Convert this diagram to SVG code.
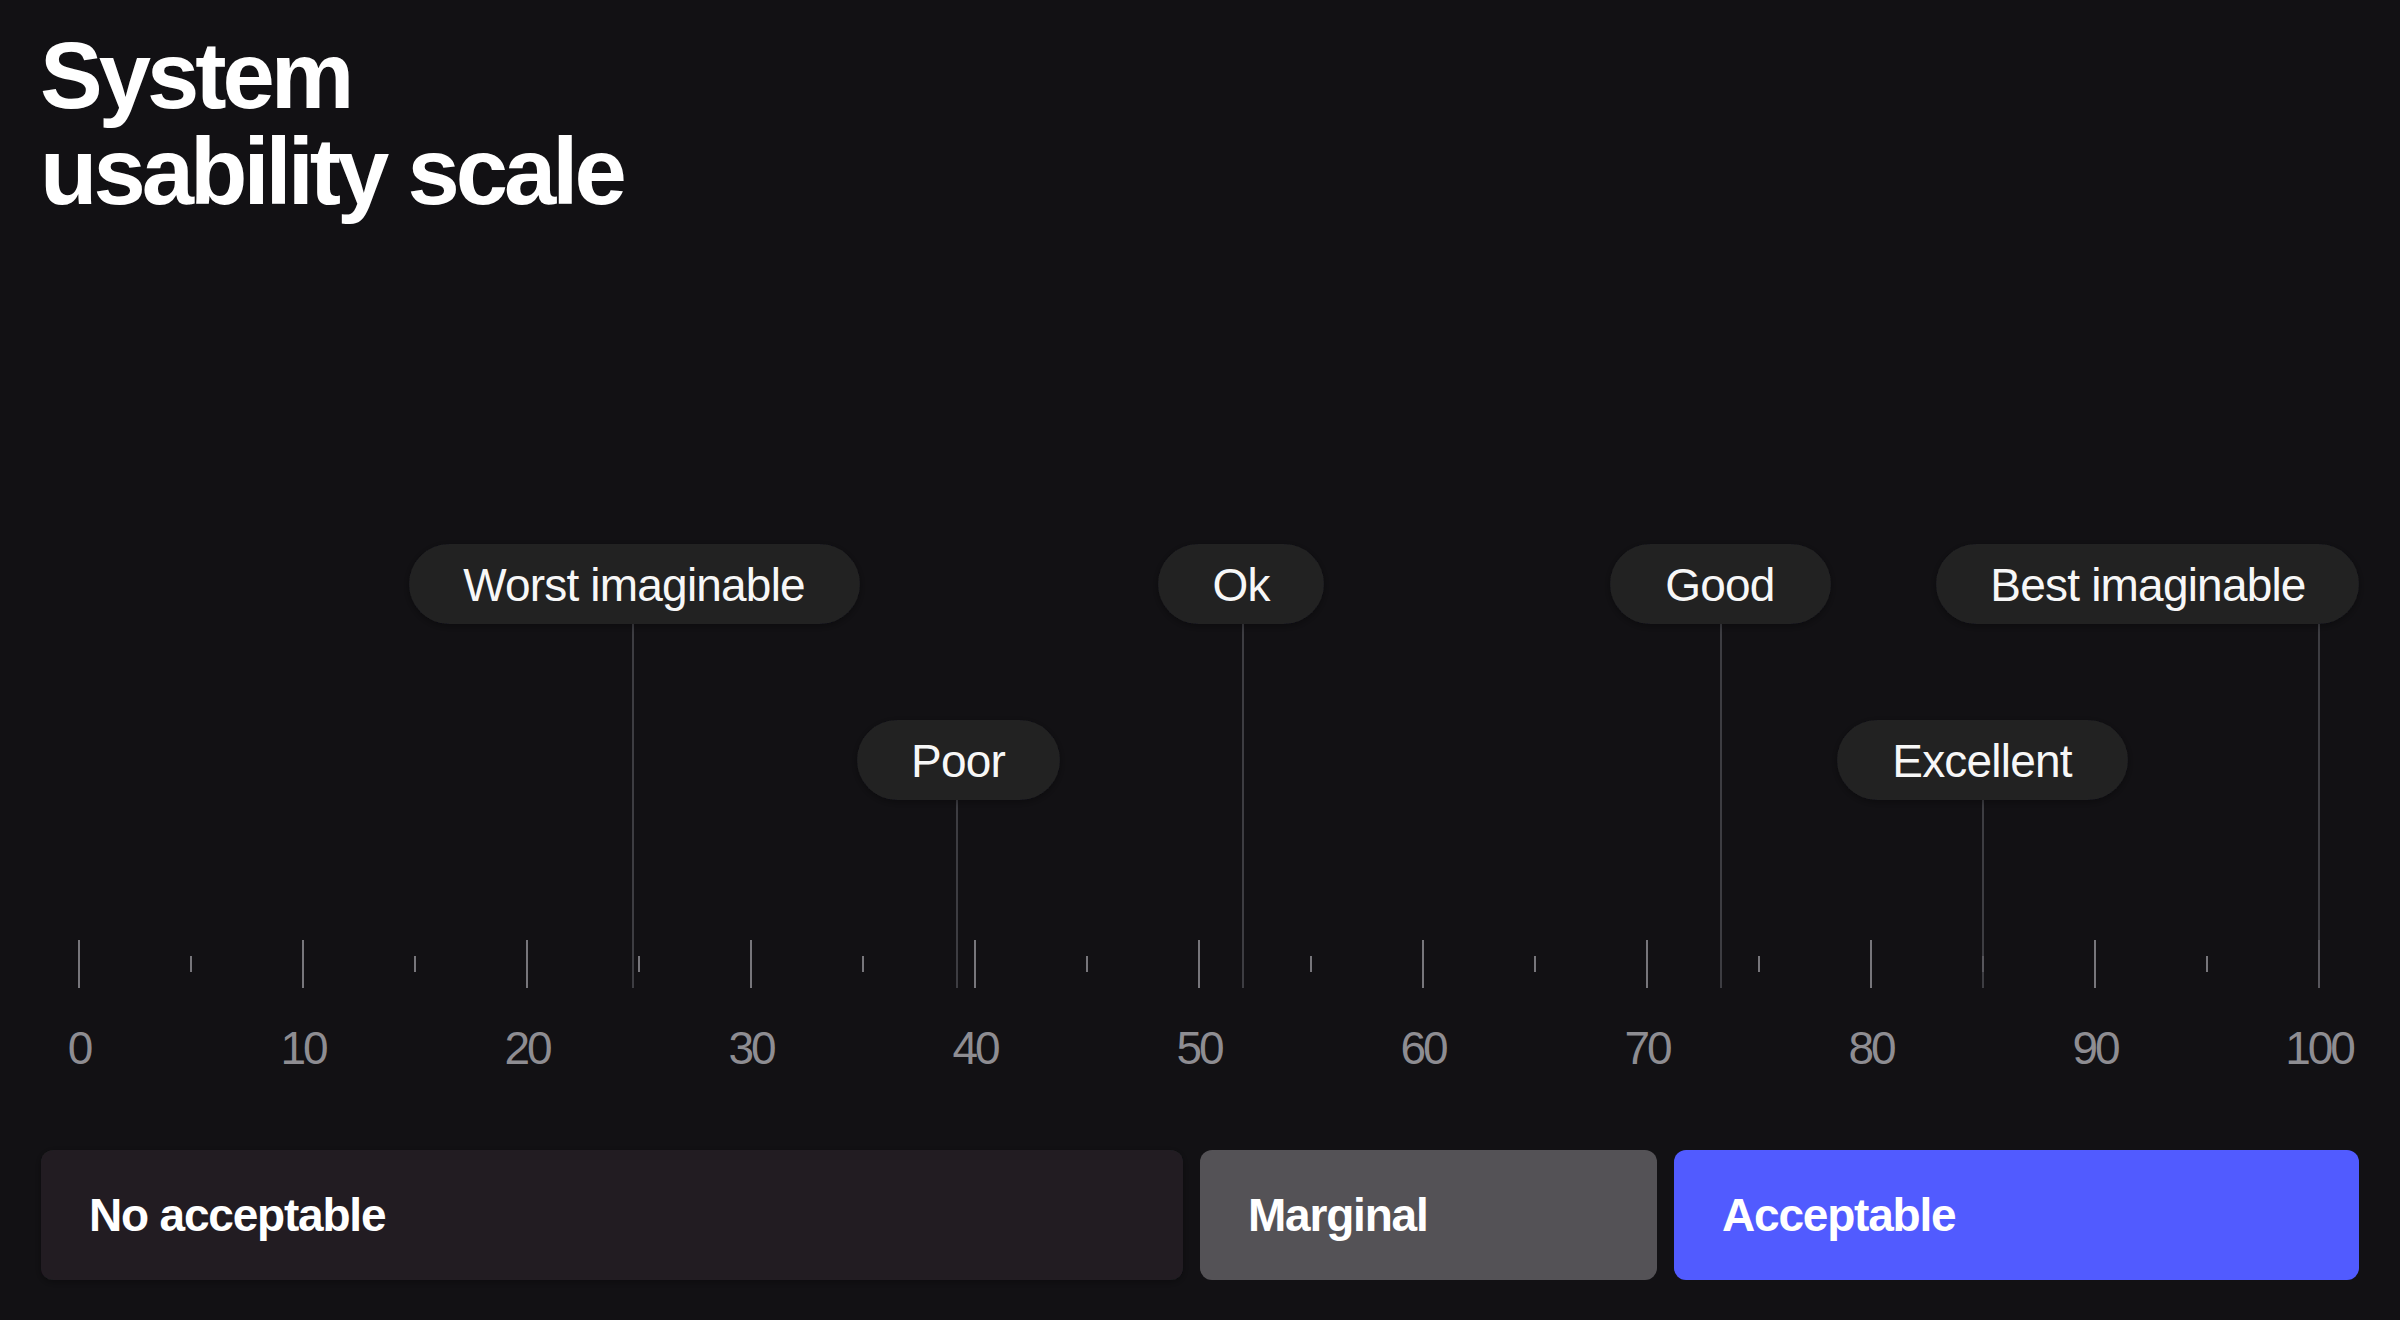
<svg xmlns="http://www.w3.org/2000/svg" width="2400" height="1320" viewBox="0 0 2400 1320">
  <defs>
    <filter id="soft" x="-10%" y="-30%" width="120%" height="160%">
      <feDropShadow dx="0" dy="2" stdDeviation="4" flood-color="#000" flood-opacity="0.35"/>
    </filter>
    <style>
      .title { font-family: "Liberation Sans", Arial, sans-serif; font-weight: 700; font-size: 94px; fill: #ffffff; letter-spacing: -4px; }
      .pill { fill: #202023; filter: url(#soft); }
      .pilltxt { font-family: "Liberation Sans", Arial, sans-serif; font-size: 46px; fill: #f7f7f7; text-anchor: middle; letter-spacing: -0.8px; }
      .conn { stroke: #4d4c52; stroke-width: 1.5; fill: none; }
      .major { stroke: #77767b; stroke-width: 2; }
      .minor { stroke: #77767b; stroke-width: 2; }
      .num { font-family: "Liberation Sans", Arial, sans-serif; font-size: 46px; fill: #8e8d92; text-anchor: middle; letter-spacing: -3px; }
      .bartxt { font-family: "Liberation Sans", Arial, sans-serif; font-weight: 700; font-size: 46px; fill: #ffffff; letter-spacing: -1.2px; }
    </style>
  </defs>
  <rect x="0" y="0" width="2400" height="1320" fill="#121114"/>

  <g id="title">
    <text class="title" x="40" y="108">System</text>
    <text class="title" x="40" y="204">usability scale</text>
  </g>

  <g id="axis">
    <g id="major-ticks">
      <line class="major" x1="79" y1="940" x2="79" y2="988"/>
      <line class="major" x1="303" y1="940" x2="303" y2="988"/>
      <line class="major" x1="527" y1="940" x2="527" y2="988"/>
      <line class="major" x1="751" y1="940" x2="751" y2="988"/>
      <line class="major" x1="975" y1="940" x2="975" y2="988"/>
      <line class="major" x1="1199" y1="940" x2="1199" y2="988"/>
      <line class="major" x1="1423" y1="940" x2="1423" y2="988"/>
      <line class="major" x1="1647" y1="940" x2="1647" y2="988"/>
      <line class="major" x1="1871" y1="940" x2="1871" y2="988"/>
      <line class="major" x1="2095" y1="940" x2="2095" y2="988"/>
      <line class="major" x1="2319" y1="940" x2="2319" y2="988"/>
    </g>
    <g id="minor-ticks">
      <line class="minor" x1="191" y1="956" x2="191" y2="972"/>
      <line class="minor" x1="415" y1="956" x2="415" y2="972"/>
      <line class="minor" x1="639" y1="956" x2="639" y2="972"/>
      <line class="minor" x1="863" y1="956" x2="863" y2="972"/>
      <line class="minor" x1="1087" y1="956" x2="1087" y2="972"/>
      <line class="minor" x1="1311" y1="956" x2="1311" y2="972"/>
      <line class="minor" x1="1535" y1="956" x2="1535" y2="972"/>
      <line class="minor" x1="1759" y1="956" x2="1759" y2="972"/>
      <line class="minor" x1="1983" y1="956" x2="1983" y2="972"/>
      <line class="minor" x1="2207" y1="956" x2="2207" y2="972"/>
    </g>
    <g id="numbers">
      <text class="num" x="79" y="1064">0</text>
      <text class="num" x="303" y="1064">10</text>
      <text class="num" x="527" y="1064">20</text>
      <text class="num" x="751" y="1064">30</text>
      <text class="num" x="975" y="1064">40</text>
      <text class="num" x="1199" y="1064">50</text>
      <text class="num" x="1423" y="1064">60</text>
      <text class="num" x="1647" y="1064">70</text>
      <text class="num" x="1871" y="1064">80</text>
      <text class="num" x="2095" y="1064">90</text>
      <text class="num" x="2319" y="1064">100</text>
    </g>
  </g>

  <g id="connectors">
    <line class="conn" x1="633" y1="624" x2="633" y2="988"/>
    <line class="conn" x1="957" y1="800" x2="957" y2="988"/>
    <line class="conn" x1="1243" y1="624" x2="1243" y2="988"/>
    <line class="conn" x1="1721" y1="624" x2="1721" y2="988"/>
    <line class="conn" x1="1983" y1="800" x2="1983" y2="988"/>
    <line class="conn" x1="2319" y1="624" x2="2319" y2="988"/>
  </g>

  <g id="worst-imaginable">
    <rect class="pill" x="409" y="544" width="451" height="80" rx="40"/>
    <text class="pilltxt" x="634" y="601">Worst imaginable</text>
  </g>
  <g id="poor">
    <rect class="pill" x="857" y="720" width="203" height="80" rx="40"/>
    <text class="pilltxt" x="958" y="777">Poor</text>
  </g>
  <g id="ok">
    <rect class="pill" x="1158" y="544" width="166" height="80" rx="40"/>
    <text class="pilltxt" x="1241" y="601">Ok</text>
  </g>
  <g id="good">
    <rect class="pill" x="1610" y="544" width="221" height="80" rx="40"/>
    <text class="pilltxt" x="1720" y="601">Good</text>
  </g>
  <g id="excellent">
    <rect class="pill" x="1837" y="720" width="291" height="80" rx="40"/>
    <text class="pilltxt" x="1982" y="777">Excellent</text>
  </g>
  <g id="best-imaginable">
    <rect class="pill" x="1936" y="544" width="423" height="80" rx="40"/>
    <text class="pilltxt" x="2148" y="601">Best imaginable</text>
  </g>

  <g id="no-acceptable">
    <rect x="41" y="1150" width="1142" height="130" rx="12" fill="#201f23" filter="url(#soft)"/>
    <text class="bartxt" x="89" y="1231">No acceptable</text>
  </g>
  <g id="marginal">
    <rect x="1200" y="1150" width="457" height="130" rx="12" fill="#545256"/>
    <text class="bartxt" x="1248" y="1231">Marginal</text>
  </g>
  <g id="acceptable">
    <rect x="1674" y="1150" width="685" height="130" rx="12" fill="#515bff"/>
    <text class="bartxt" x="1722" y="1231">Acceptable</text>
  </g>
</svg>
